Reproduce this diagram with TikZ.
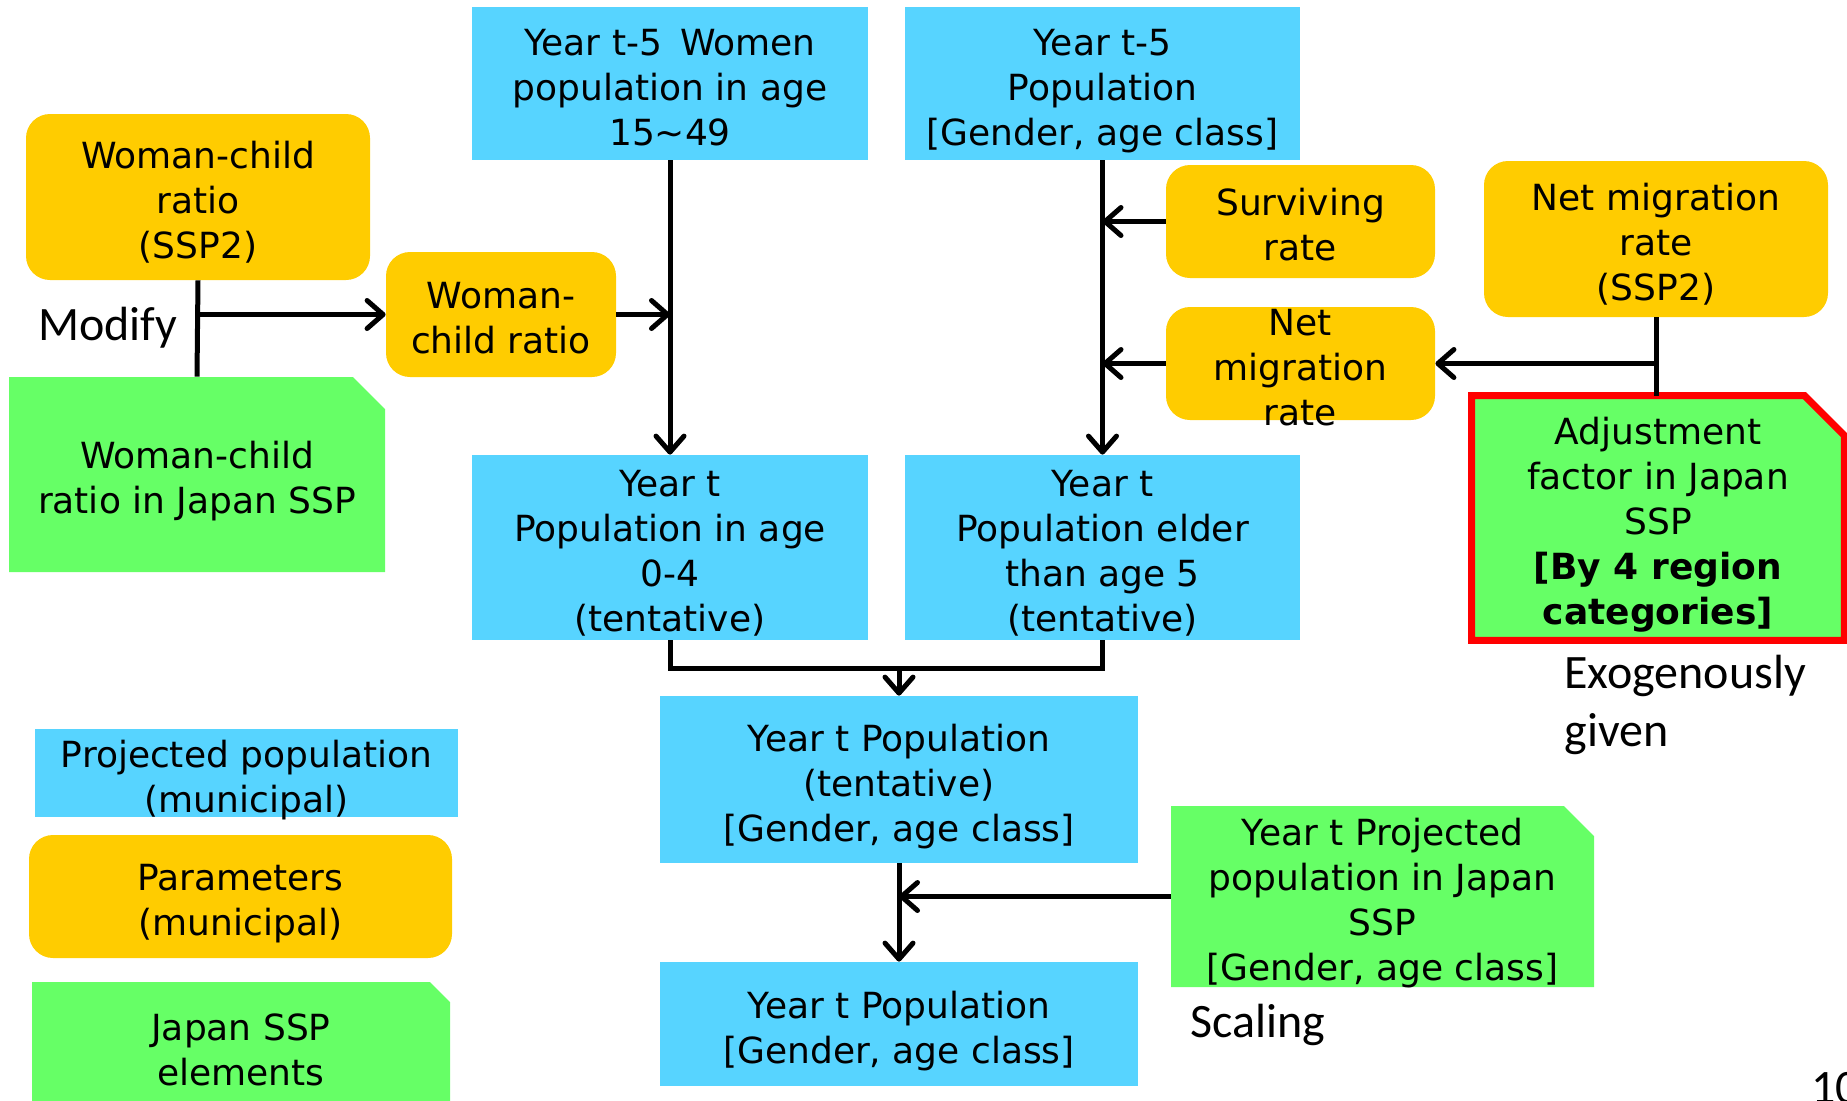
\documentclass[tikz,border=0pt]{standalone}
\usepackage{fontspec}
\setmainfont{DejaVu Sans}
\newfontfamily\lblfont{Carlito}
\usetikzlibrary{arrows.meta}
\definecolor{popblue}{RGB}{87,212,255}
\definecolor{parorange}{RGB}{255,204,0}
\definecolor{sspgreen}{RGB}{102,255,102}
\newcommand\bxfont{\fontsize{18}{22.5}\selectfont}
\newcommand\lbfont{\lblfont\fontsize{24}{29}\selectfont}

\tikzset{
  txtbox/.style={rectangle,inner sep=0pt,align=center,font=\bxfont,text depth=2pt},
  l2/.style={text height=41pt},
  l3/.style={text height=63.5pt},
  l4/.style={text height=86pt},
  l5/.style={text height=108.5pt},
  popbox/.style={txtbox,fill=popblue},
  parbox/.style={txtbox,rounded corners=12pt,fill=parorange},
  chamf/.store in=\chamf, chamf=16pt,
  sspbox/.style={txtbox,path picture={
    \fill[sspgreen] (path picture bounding box.south west)
      |- ([xshift=-\chamf]path picture bounding box.north east)
      -- ([yshift=-\chamf]path picture bounding box.north east) |- cycle;}},
  flow/.style={line width=2.5pt},
  arr/.style={flow,-{Straight Barb[length=8pt,width=14pt,round]}},
  lbl/.style={font=\lbfont,align=left,inner sep=0pt}
}

\begin{document}
\begin{tikzpicture}[x=0.5pt,y=-0.5pt]
\useasboundingbox (0,0) rectangle (1847,1100);

\node[popbox,l3,minimum width=198pt,minimum height=76.5pt] (women) at (670,83.5)
  {Year t-5\enspace Women\\population in age\\15\textasciitilde49};
\node[popbox,l3,minimum width=197.5pt,minimum height=76.5pt] (popold) at (1102.5,83.5)
  {Year t-5\\Population\\{[}Gender, age class{]}};
\node[popbox,l4,minimum width=198pt,minimum height=92.5pt] (young) at (670,547.5)
  {Year t\\Population in age\\0-4\\(tentative)};
\node[popbox,l4,minimum width=197.5pt,minimum height=92.5pt] (elder) at (1102.5,547.5)
  {Year t\\Population elder\\than age 5\\(tentative)};
\node[popbox,l3,minimum width=239pt,minimum height=83.5pt] (tent) at (899,779.5)
  {Year t Population\\(tentative)\\{[}Gender, age class{]}};
\node[popbox,l2,minimum width=239pt,minimum height=62pt] (final) at (899,1024)
  {Year t Population\\{[}Gender, age class{]}};

\node[parbox,l3,minimum width=172pt,minimum height=83pt] (wcrssp) at (198,197)
  {Woman-child\\ratio\\(SSP2)};
\node[parbox,l2,minimum width=115pt,minimum height=62.5pt] (wcr) at (501,314.5)
  {Woman-\\child ratio};
\node[parbox,l2,minimum width=134.5pt,minimum height=56.5pt] (surv) at (1300.5,221.5)
  {Surviving\\rate};
\node[parbox,minimum width=134.5pt,minimum height=56.5pt,
  label={[txtbox,l3]center:Net\\migration\\rate}] (nmr) at (1300.5,363.5) {};
\node[parbox,l3,minimum width=172pt,minimum height=78pt] (nmrssp) at (1656,239)
  {Net migration\\rate\\(SSP2)};

\node[sspbox,l2,minimum width=188pt,minimum height=97.5pt] (wcrjp) at (197,474.5)
  {Woman-child\\ratio in Japan SSP};
\node[sspbox,l5,chamf=20pt,minimum width=186pt,minimum height=122pt] (adj) at (1658,518)
  {Adjustment\\factor in Japan\\SSP\\\textbf{[By 4 region}\\\textbf{categories]}};
\draw[red,line width=3.5pt] (adj.south west) |- ([xshift=-20pt]adj.north east)
  -- ([yshift=-20pt]adj.north east) |- cycle;
\node[sspbox,l4,chamf=15pt,minimum width=211.5pt,minimum height=90.5pt] (proj) at (1382.5,896.5)
  {Year t Projected\\population in Japan\\SSP\\{[}Gender, age class{]}};

\node[popbox,l2,minimum width=211.5pt,minimum height=44pt] (legpop) at (246.5,773)
  {Projected population\\(municipal)};
\node[parbox,l2,minimum width=211.5pt,minimum height=61.5pt] (legpar) at (240.5,896.5)
  {Parameters\\(municipal)};
\node[sspbox,l2,chamf=10pt,minimum width=209pt,minimum height=64pt] (legssp) at (241,1046)
  {Japan SSP\\elements};

\node[lbl] (modify) at (108,328) {Modify};
\node[lbl,anchor=north west] (exo) at (1564,655) {Exogenously\\given};
\node[lbl,anchor=west] (scaling) at (1190,1025) {Scaling};
\node[lbl,anchor=north west] (page) at (1811,1072) {10};

\coordinate (wj) at (women.south |- wcr.east);
\coordinate (sj) at (wcrssp.south |- wcr.west);
\coordinate (mj) at (899,668);
\draw[arr] (women.south) -- (young.north);
\draw[arr] (wcr.east) -- (wj);
\draw[flow] (wcrssp.south) -- (wcrjp.north);
\draw[arr] (sj) -- (wcr.west);
\draw[arr] (popold.south) -- (elder.north);
\draw[arr] (surv.west) -- (popold.south |- surv.west);
\draw[arr] (nmr.west) -- (popold.south |- nmr.west);
\draw[flow] (nmrssp.south) -- (adj.north -| nmrssp.south);
\draw[arr] (nmrssp.south |- nmr.east) -- (nmr.east);
\draw[flow] (young.south) |- (mj) -| (elder.south);
\draw[arr] (mj) -- (tent.north);
\draw[arr] (tent.south) -- (final.north);
\draw[arr] (proj.west) -- (tent.south |- proj.west);
\end{tikzpicture}
\end{document}
